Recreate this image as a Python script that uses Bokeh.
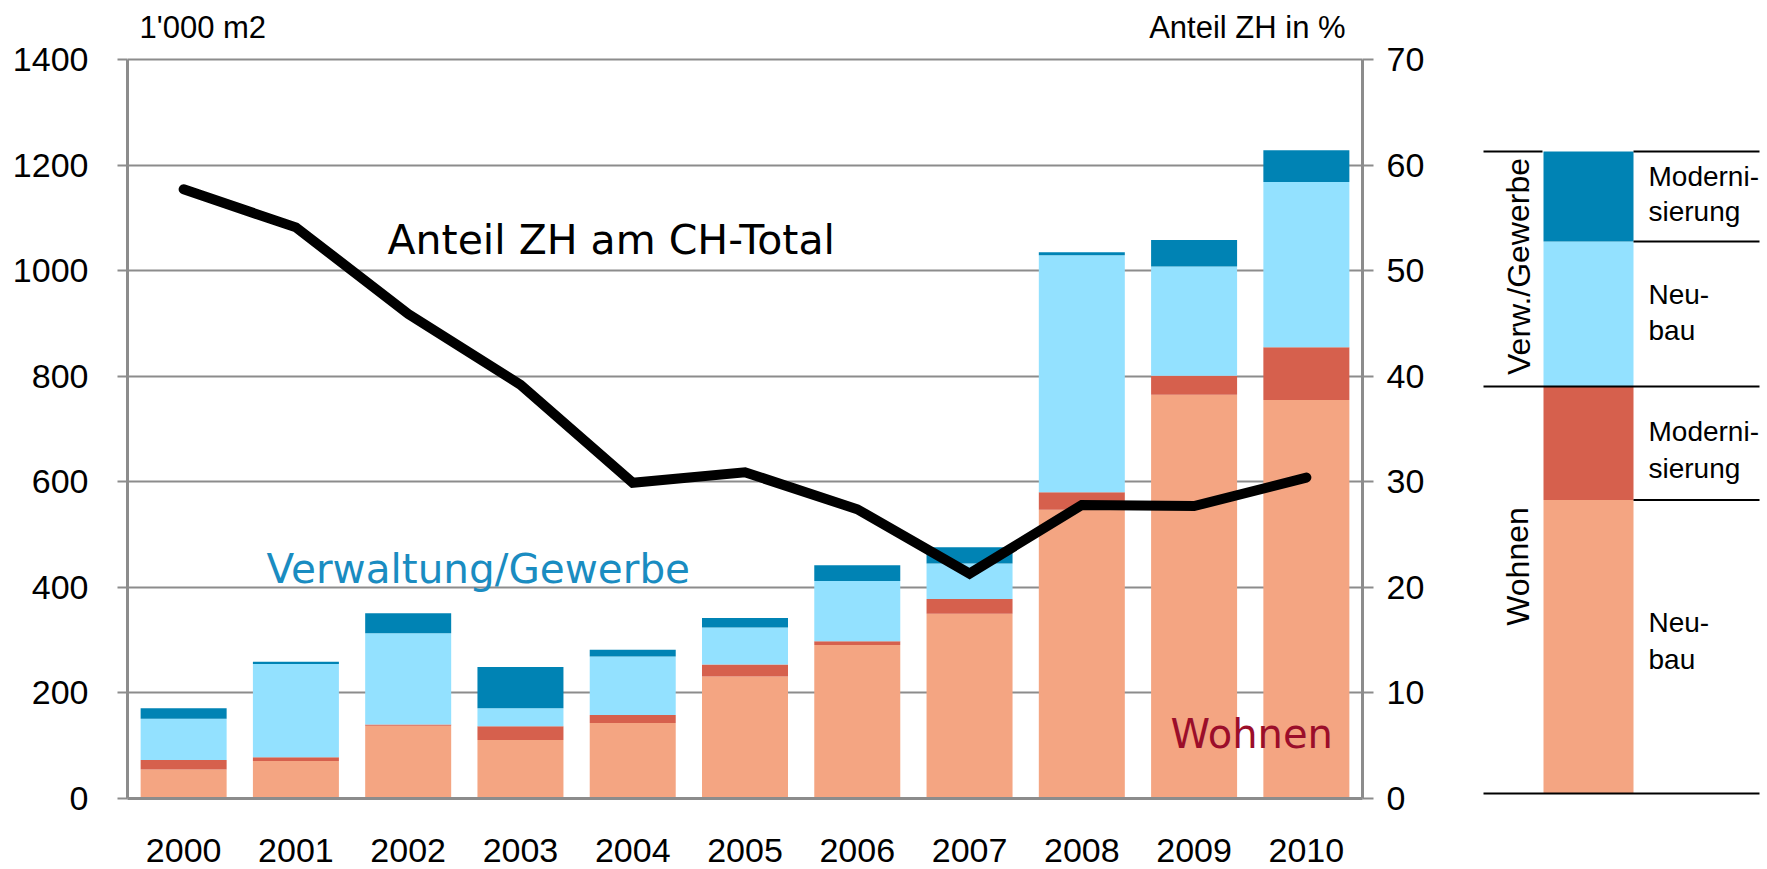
from bokeh.plotting import figure
from bokeh.models import FactorRange, Range1d, LinearAxis, FixedTicker, Label, ColumnDataSource
from bokeh.layouts import row
from bokeh.embed import file_html
from bokeh.resources import INLINE

# ---------------- data ----------------
years = ["2000", "2001", "2002", "2003", "2004", "2005", "2006", "2007", "2008", "2009", "2010"]
wohnen_neubau = [55, 71, 138, 111, 143, 231, 291, 350, 547, 765, 755]
wohnen_modern = [18, 7, 2, 26, 15, 23, 7, 28, 33, 36, 100]
verw_neubau = [78, 177, 173, 34, 111, 70, 114, 67, 449, 207, 313]
verw_modern = [20, 4, 38, 78, 13, 18, 30, 31, 6, 50, 60]
anteil_zh = [57.7, 54.1, 45.9, 39.2, 29.9, 30.9, 27.4, 21.3, 27.8, 27.7, 30.4]
left_ticks = [0, 200, 400, 600, 800, 1000, 1200, 1400]
right_ticks = [0, 10, 20, 30, 40, 50, 60, 70]
left_max = 1400
right_max = 70

# ---------------- styles / layout ----------------
C_WN = "#F4A582"
C_WM = "#D6604D"
C_VN = "#93E1FF"
C_VM = "#0083B4"
GRAY = "#8C8C8C"
AX_FONT = "Liberation Sans"
ANN_FONT = "DejaVu Sans"

FRAME_BOTTOM = 798        # page y of the 0 line
FRAME_TOPVAL = 59         # page y of the 1400 line
H = 869
scale = (FRAME_BOTTOM - FRAME_TOPVAL) / left_max     # px per unit
ymax = FRAME_BOTTOM / scale                             # frame reaches to page top

src = ColumnDataSource(dict(year=years, wn=wohnen_neubau, wm=wohnen_modern,
                            vn=verw_neubau, vm=verw_modern, anteil=anteil_zh))

p = figure(x_range=FactorRange(*years), y_range=Range1d(0, ymax),
           width=1446, height=H, output_backend="svg", toolbar_location=None,
           min_border_left=127, min_border_right=84, min_border_top=0,
           min_border_bottom=H - FRAME_BOTTOM)
p.outline_line_color = None
p.background_fill_color = "white"
p.border_fill_color = "white"

p.extra_y_ranges = {"pct": Range1d(0, ymax * right_max / left_max)}

p.vbar_stack(["wn", "wm", "vn", "vm"], x="year", width=0.766, source=src,
             fill_color=[C_WN, C_WM, C_VN, C_VM], line_color=None)

p.line(x="year", y="anteil", y_range_name="pct", source=src, line_width=10,
       line_color="black", line_cap="round", line_join="miter")

# axes
ly = p.yaxis[0]
ly.ticker = FixedTicker(ticks=left_ticks)
ly.bounds = (0, left_max)
ry = LinearAxis(y_range_name="pct", ticker=FixedTicker(ticks=right_ticks), bounds=(0, right_max))
p.add_layout(ry, "right")

for ax, tout, stand in ((ly, 10, 29), (ry, 11, 13)):
    ax.axis_line_color = GRAY
    ax.axis_line_width = 3
    ax.major_tick_line_color = GRAY
    ax.major_tick_line_width = 2
    ax.major_tick_out = tout
    ax.major_tick_in = 0
    ax.minor_tick_line_color = None
    ax.major_label_text_font = AX_FONT
    ax.major_label_text_font_size = "34px"
    ax.major_label_text_color = "black"
    ax.major_label_standoff = stand

xa = p.xaxis[0]
xa.axis_line_color = GRAY
xa.axis_line_width = 3
xa.major_tick_line_color = None
xa.major_tick_out = 0
xa.major_tick_in = 0
xa.minor_tick_line_color = None
xa.major_label_text_font = AX_FONT
xa.major_label_text_font_size = "34px"
xa.major_label_text_color = "black"
xa.major_label_standoff = 40

p.xgrid.grid_line_color = None
p.ygrid.ticker = FixedTicker(ticks=left_ticks)
p.ygrid.grid_line_color = GRAY
p.ygrid.grid_line_width = 2

# annotations
def val(page_y):
    return (FRAME_BOTTOM - page_y) / scale

def lab(fig, x, page_y, text, font, fs, color="black", align="left", rotated=False):
    if rotated:
        fig.add_layout(Label(x=x, y=val(page_y), text=text, text_font=font,
                             text_font_size=f"{fs}px", text_color=color,
                             text_align="center", text_baseline="middle", angle=1.5708))
    else:
        # page_y is the wanted baseline; compensate renderer baseline offset
        fig.add_layout(Label(x=x, y=val(page_y - 0.33 * fs), text=text, text_font=font,
                             text_font_size=f"{fs}px", text_color=color,
                             text_align=align, text_baseline="alphabetic"))

lab(p, 0.107, 37, "1'000 m2", AX_FONT, 31)
lab(p, 10.849, 37, "Anteil ZH in %", AX_FONT, 31, align="right")
lab(p, 2.316, 253, "Anteil ZH am CH-Total", ANN_FONT, 41)
lab(p, 1.238, 582, "Verwaltung/Gewerbe", ANN_FONT, 40.5, color="#1A8CC1")
lab(p, 9.29, 747, "Wohnen", ANN_FONT, 40, color="#9B0E2A")

# ---------------- schematic legend ----------------
LW = 1767 - 1446
lf = figure(width=LW, height=H, x_range=Range1d(0, LW), y_range=Range1d(0, ymax),
            x_axis_type=None, y_axis_type=None, output_backend="svg",
            toolbar_location=None, min_border_left=0, min_border_right=0,
            min_border_top=0, min_border_bottom=H - FRAME_BOTTOM)
lf.outline_line_color = None
lf.xgrid.grid_line_color = None
lf.ygrid.grid_line_color = None

leg_edges_page = [793, 499.5, 386, 241, 151]          # bottom -> top, page pixels
leg_colors = [C_WN, C_WM, C_VN, C_VM]
lf.quad(left=[97] * 4, right=[187] * 4,
        bottom=[val(v) for v in leg_edges_page[:-1]],
        top=[val(v) for v in leg_edges_page[1:]],
        fill_color=leg_colors, line_color=None)

seg_x0 = [37, 187, 187, 37, 187, 37]
seg_x1 = [96, 313, 313, 313, 313, 313]
seg_page_y = [151, 151, 241, 386, 499.5, 793]
lf.segment(x0=seg_x0, x1=seg_x1, y0=[val(v) for v in seg_page_y], y1=[val(v) for v in seg_page_y],
           line_color="black", line_width=2)

leg_texts = ["Moderni-", "sierung", "Neu-", "bau", "Moderni-", "sierung", "Neu-", "bau"]
leg_text_page_y = [185, 220, 303, 339, 440.5, 477, 631, 668]
for t, y in zip(leg_texts, leg_text_page_y):
    lab(lf, 202, y, t, AX_FONT, 28)

lab(lf, 72, 266, "Verw./Gewerbe", AX_FONT, 32, rotated=True)
lab(lf, 71, 566, "Wohnen", AX_FONT, 32, rotated=True)

layout = row(p, lf)
open("out.html", "w").write(file_html(layout, INLINE))
